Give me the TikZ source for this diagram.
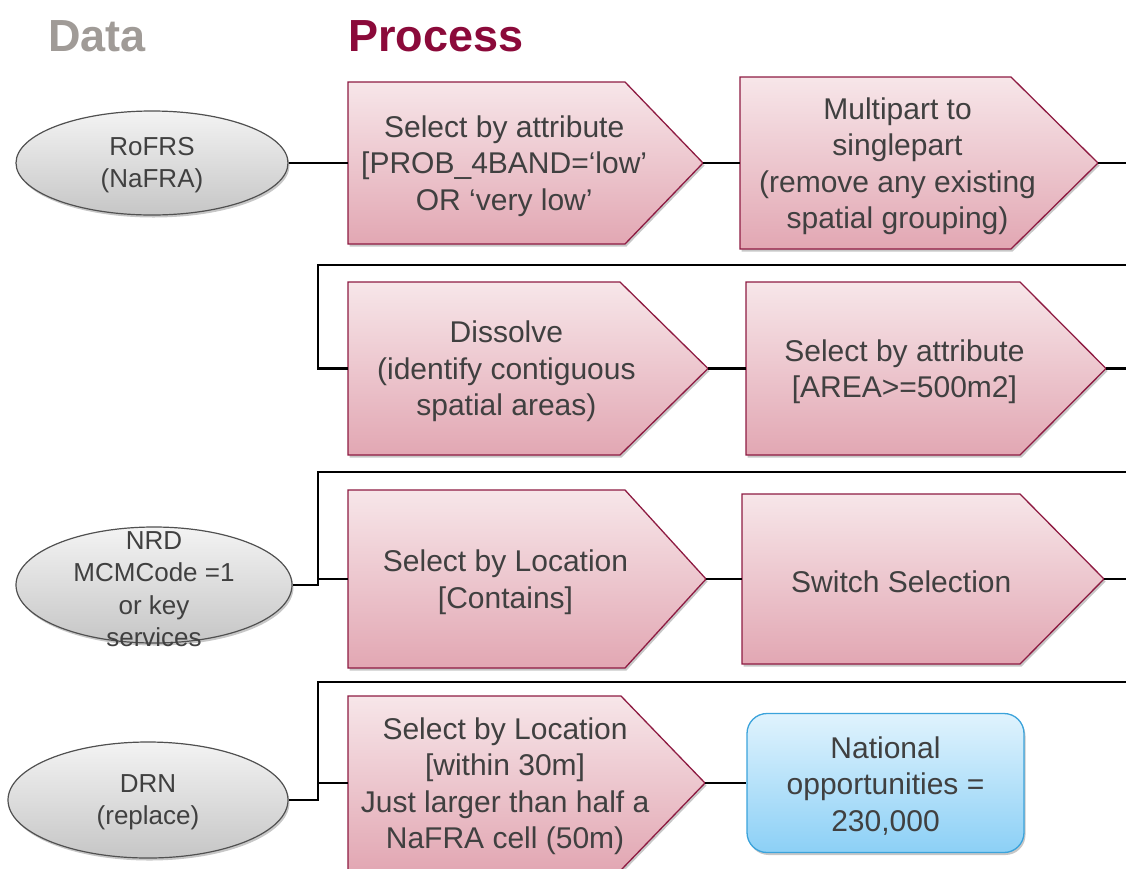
\documentclass[tikz,border=0pt]{standalone}
\usepackage{fontspec}
\setmainfont{Liberation Sans}
\usetikzlibrary{shapes.geometric,shadows,calc}
\definecolor{txt}{HTML}{404040}
\definecolor{proctop}{HTML}{F7E6E9}
\definecolor{procbot}{HTML}{E2A7B3}
\definecolor{procborder}{HTML}{8E1B42}
\definecolor{elltop}{HTML}{F3F3F3}
\definecolor{ellbot}{HTML}{C6C6C6}
\definecolor{ellborder}{HTML}{505050}
\definecolor{bluetop}{HTML}{E0F3FD}
\definecolor{bluebot}{HTML}{8CD0F6}
\definecolor{blueborder}{HTML}{3BA3DB}
\definecolor{datagray}{HTML}{A09B97}
\definecolor{procred}{HTML}{8B0A3A}
\tikzset{
  procshape/.style={draw=procborder, line width=1.3pt, top color=proctop, bottom color=procbot,
    drop shadow={opacity=0.22, shadow xshift=1.5pt, shadow yshift=-2.5pt, fill=black}},
  proctext/.style={text=txt, align=center, font=\fontsize{30}{36.5}\selectfont, inner sep=0pt, yshift=-3pt},
  dataell/.style={ellipse, draw=ellborder, line width=1.2pt, top color=elltop, bottom color=ellbot,
    inner sep=0pt, drop shadow={opacity=0.22, shadow xshift=1.5pt, shadow yshift=-2.5pt, fill=black}},
  datatext/.style={text=txt, align=center, font=\fontsize{26}{32.5}\selectfont, inner sep=0pt, yshift=-2pt},
  resultbox/.style={draw=blueborder, line width=1.3pt, top color=bluetop, bottom color=bluebot,
    rounded corners=20pt, inner sep=0pt,
    drop shadow={opacity=0.22, shadow xshift=1.5pt, shadow yshift=-2.5pt, fill=black}},
  conn/.style={line width=2.5pt, draw=black},
  heading/.style={font=\fontsize{45}{54}\selectfont\bfseries, anchor=base west, inner sep=0pt}
}
% #1 name, #2 x left, #3 x rect right, #4 x tip, #5 y top, #6 y bottom, #7 text
\newcommand\procbox[7]{%
  \path[procshape] (#2,-#5) -- (#3,-#5) -- (#4,{-(#5+#6)/2}) -- (#3,-#6) -- (#2,-#6) -- cycle;
  \coordinate (#1-w) at (#2,{-(#5+#6)/2});
  \coordinate (#1-e) at (#4,{-(#5+#6)/2});
  \node[proctext] (#1) at ({#2+0.44*(#4-#2)},{-(#5+#6)/2}) {#7};
}
\begin{document}
\begin{tikzpicture}[x=1pt,y=1pt]
\useasboundingbox (0,0) rectangle (1126,-868);

% headings
\node[heading, text=datagray] (hdata) at (48,-51) {Data};
\node[heading, text=procred] (hproc) at (348,-51) {Process};

% row 1
\node[dataell, minimum width=272pt, minimum height=104pt] (e1) at (152,-163) {};
\node[datatext] (e1t) at (e1) {RoFRS\\(NaFRA)};
\procbox{b1}{348}{625}{703}{82}{244}{Select by attribute\\{}[PROB\_4BAND=‘low’\\OR ‘very low’}
\procbox{b2}{740}{1011}{1098}{77}{249}{Multipart to\\singlepart\\(remove any existing\\spatial grouping)}
\coordinate (o1) at (1126,-163);
\draw[conn] (e1.east) -- (b1-w);
\draw[conn] (b1-e) -- (b2-w);
\draw[conn] (b2-e) -- (o1);

% row 2
\coordinate (i2) at (1126,-265);
\coordinate (j2) at (318,-368.5);
\procbox{b3}{348}{620}{708}{282}{455}{Dissolve\\(identify contiguous\\spatial areas)}
\procbox{b4}{746}{1020}{1106}{282}{455}{Select by attribute\\{}[AREA>=500m2]}
\coordinate (o2) at (1126,-368.5);
\draw[conn] (i2) -| (j2) -- (b3-w);
\draw[conn] (b3-e) -- (b4-w);
\draw[conn] (b4-e) -- (o2);

% row 3
\coordinate (i3) at (1126,-472);
\node[dataell, minimum width=276pt, minimum height=116pt] (e2) at (154,-585) {};
\node[datatext] (e2t) at (154,-587) {NRD\\MCMCode =1\\or key\\services};
\procbox{b5}{348}{625}{706}{490}{668}{Select by Location\\{}[Contains]}
\procbox{b6}{742}{1020}{1104}{494}{664}{Switch Selection}
\coordinate (j3) at (318,-585);
\coordinate (k3) at (318,-579);
\coordinate (o3) at (1126,-579);
\draw[conn] (i3) -| (j3) -- (e2.east);
\draw[conn] (k3) -- (b5-w);
\draw[conn] (b5-e) -- (b6-w);
\draw[conn] (b6-e) -- (o3);

% row 4
\coordinate (i4) at (1126,-682);
\node[dataell, minimum width=280pt, minimum height=116pt] (e3) at (148,-800) {};
\node[datatext] (e3t) at (e3) {DRN\\(replace)};
\procbox{b7}{348}{621}{705}{696}{870}{Select by Location\\{}[within 30m]\\Just larger than half a\\NaFRA cell (50m)}
\node[resultbox, minimum width=277pt, minimum height=139pt] (res) at (885.5,-783) {};
\node[proctext] (rest) at (res) {National\\opportunities =\\230,000};
\coordinate (j4) at (318,-800);
\coordinate (k4) at (318,-783);
\draw[conn] (i4) -| (j4) -- (e3.east);
\draw[conn] (k4) -- (b7-w);
\draw[conn] (b7-e) -- (res.west);
\end{tikzpicture}
\end{document}
